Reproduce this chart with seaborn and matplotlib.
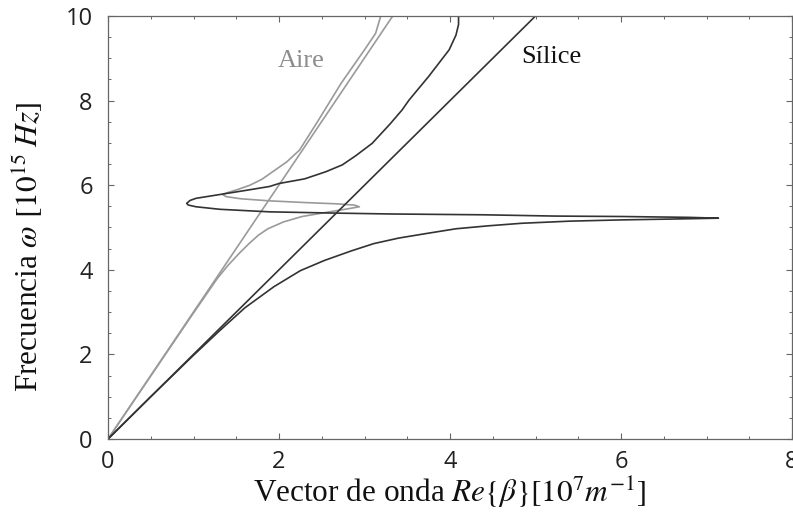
import matplotlib
matplotlib.use("Agg")
import matplotlib.pyplot as plt
import seaborn as sns
import pandas as pd
from matplotlib.ticker import MultipleLocator

# ---- data (beta in 1e7 m^-1, omega in 1e15 Hz) ----
silice_light_beta = [0.0, 5.0]
silice_light_omega = [0.0, 10.0]

aire_light_beta = [0.0, 3.33]
aire_light_omega = [0.0, 10.0]

silice_spp_beta = [0.0, 0.5, 1.0, 1.3, 1.6, 1.94, 2.25, 2.53, 2.85, 3.11, 3.40, 3.73,
                   4.07, 4.45, 4.84, 5.4, 6.01, 6.6, 7.14,
                   6.79, 6.0, 5.23, 4.4, 3.29, 2.67, 1.89, 1.31, 1.03, 0.94, 0.92,
                   0.96, 1.03, 1.34, 1.62, 1.89, 2.0, 2.3, 2.55, 2.74, 2.9, 3.09,
                   3.30, 3.44, 3.52, 3.75, 3.99, 4.07, 4.10, 4.10]
silice_spp_omega = [0.0, 1.0, 1.98, 2.55, 3.10, 3.60, 3.98, 4.22, 4.45, 4.62, 4.75, 4.86,
                    4.97, 5.04, 5.10, 5.15, 5.18, 5.20, 5.22,
                    5.24, 5.26, 5.27, 5.30, 5.32, 5.34, 5.37, 5.43, 5.49, 5.53, 5.57,
                    5.64, 5.69, 5.79, 5.88, 5.97, 6.04, 6.15, 6.32, 6.48, 6.70, 6.99,
                    7.45, 7.78, 8.01, 8.57, 9.20, 9.55, 9.80, 10.0]

aire_spp_beta = [0.0, 0.5, 0.97, 1.28, 1.41, 1.54, 1.65, 1.76, 1.87, 2.05, 2.27, 2.59,
                 2.80, 2.94,
                 2.88, 2.67, 2.30, 1.89, 1.55, 1.38, 1.34,
                 1.39, 1.52, 1.66, 1.80, 1.92, 2.09, 2.24, 2.45, 2.73, 3.00, 3.13, 3.19]
aire_spp_omega = [0.0, 1.49, 2.89, 3.80, 4.12, 4.40, 4.62, 4.82, 4.97, 5.13, 5.26, 5.37,
                  5.44, 5.49,
                  5.53, 5.56, 5.59, 5.63, 5.68, 5.73, 5.78,
                  5.82, 5.90, 6.00, 6.14, 6.31, 6.55, 6.83, 7.50, 8.42, 9.20, 9.59, 10.0]

x_ticks = [0, 2, 4, 6, 8]
y_ticks = [0, 2, 4, 6, 8, 10]

DARK = "#333333"
GRAY = "#9a9a9a"

sns.set_theme(style="ticks")
plt.rcParams["font.family"] = ["Liberation Serif", "DejaVu Serif"]
plt.rcParams["mathtext.fontset"] = "stix"

fig = plt.figure(figsize=(7.93, 5.23), dpi=100)
W, H = 793, 523
ax = fig.add_axes([108 / W, 1 - 439 / H, (792 - 108) / W, (439 - 16) / H])

curves = [
    (aire_light_beta, aire_light_omega, GRAY),
    (aire_spp_beta, aire_spp_omega, GRAY),
    (silice_light_beta, silice_light_omega, DARK),
    (silice_spp_beta, silice_spp_omega, DARK),
]
for b, w, c in curves:
    df = pd.DataFrame({"beta": b, "omega": w})
    sns.lineplot(data=df, x="beta", y="omega", sort=False, estimator=None,
                 color=c, linewidth=1.2, ax=ax)

ax.set_xlim(0, 8)
ax.set_ylim(0, 10)
ax.set_xticks(x_ticks)
ax.set_yticks(y_ticks)
ax.xaxis.set_minor_locator(MultipleLocator(0.5))
ax.yaxis.set_minor_locator(MultipleLocator(0.5))
ax.tick_params(which="both", direction="in", top=True, right=True, color="#666666")
ax.tick_params(which="major", length=4, width=0.8)
ax.tick_params(which="minor", length=2.5, width=0.7)
ax.tick_params(axis="x", pad=8)
ax.tick_params(axis="y", pad=11)
for lab in ax.get_xticklabels() + ax.get_yticklabels():
    lab.set_fontfamily("Open Sans")
    lab.set_fontsize(17)
    lab.set_color("#222222")
for s in ax.spines.values():
    s.set_color("#666666")
    s.set_linewidth(0.9)

ax.set_xlabel(r"Vector de onda $Re\{\beta\}[10^7m^{-1}]$", fontsize=22.5, color="#111111")
ax.set_ylabel(r"Frecuencia $\omega$ $[10^{15}\;Hz]$", fontsize=22.5, color="#111111")
ax.xaxis.set_label_coords(0.5, -0.085)
ax.yaxis.set_label_coords(-0.092, 0.455)

ax.text(2.26, 8.94, "Aire", fontsize=19, color="#8c8c8c", ha="center", va="center")
ax.text(5.18, 9.03, "Sílice", fontsize=19, color="#111111", ha="center", va="center")

fig.savefig("out.png", dpi=100)
